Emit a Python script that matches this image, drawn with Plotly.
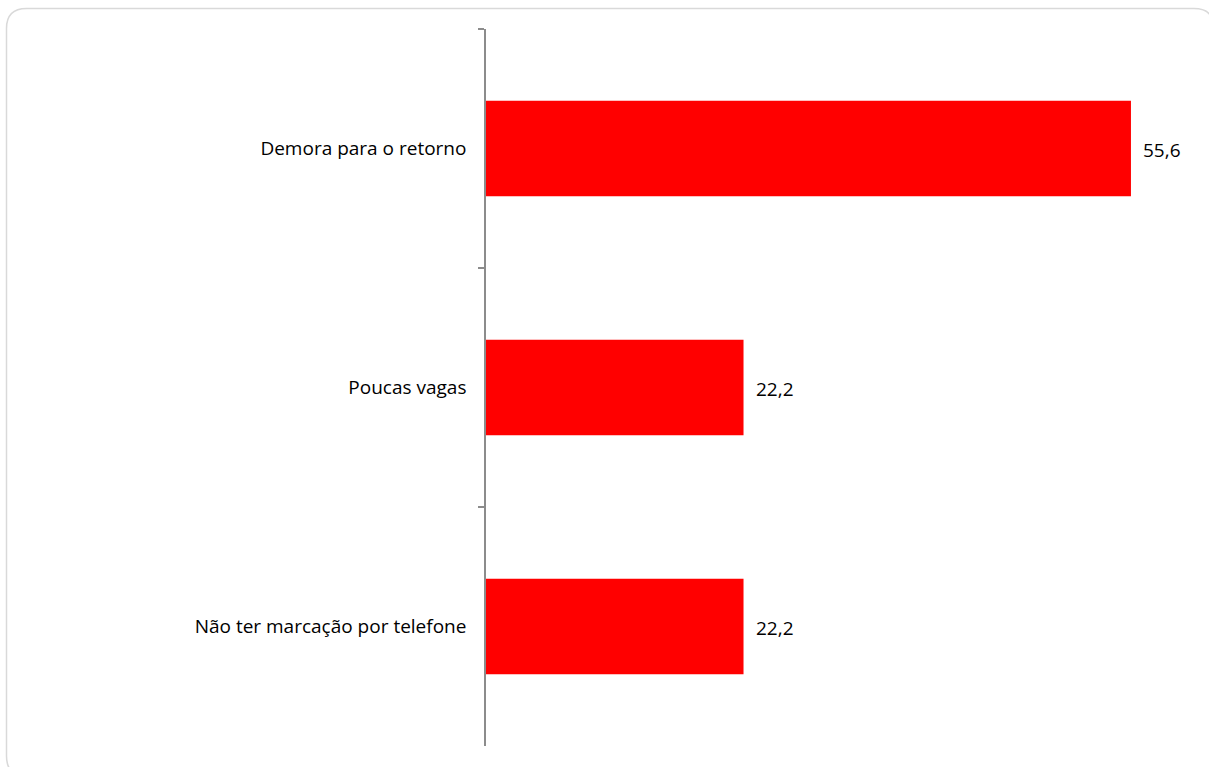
import plotly.graph_objects as go

categories = ["Demora para o retorno", "Poucas vagas", "Não ter marcação por telefone"]
values = [55.6, 22.2, 22.2]
value_labels = ["55,6", "22,2", "22,2"]

W, H = 1209, 767
L, R, T, B = 486, 9, 29, 21
pw, ph = W - L - R, H - T - B
FONT = "Open Sans, Liberation Sans"

def px(x):
    return (x - L) / pw

def py(y):
    return (H - B - y) / ph

fig = go.Figure()
fig.add_trace(go.Bar(
    y=categories, x=values, orientation="h",
    marker=dict(color="#FF0000", line=dict(width=0)),
    width=0.4, hoverinfo="skip",
))
for c, v, t in zip(categories, values, value_labels):
    fig.add_annotation(x=v, y=c, text=t, showarrow=False, xanchor="left",
                       xshift=10, yshift=-1, font=dict(family=FONT, size=19, color="#000"))

# rounded frame
x0, y0, x1, y1, r = 6.5, 8.5, 1214, 776, 20
path = (f"M {px(x0)},{py(y0 + r)} Q {px(x0)},{py(y0)} {px(x0 + r)},{py(y0)} "
        f"L {px(x1 - r)},{py(y0)} Q {px(x1)},{py(y0)} {px(x1)},{py(y0 + r)} "
        f"L {px(x1)},{py(y1 - r)} Q {px(x1)},{py(y1)} {px(x1 - r)},{py(y1)} "
        f"L {px(x0 + r)},{py(y1)} Q {px(x0)},{py(y1)} {px(x0)},{py(y1 - r)} Z")
fig.add_shape(type="path", xref="paper", yref="paper", path=path,
              line=dict(color="#D9D9D9", width=1.5), layer="below")

fig.update_layout(
    width=W, height=H,
    margin=dict(l=L, r=R, t=T, b=B),
    plot_bgcolor="white", paper_bgcolor="white",
    showlegend=False,
    font=dict(family=FONT, size=19, color="#000"),
    xaxis=dict(range=[0, pw / 11.6], visible=False, showgrid=False, zeroline=False),
    yaxis=dict(
        categoryorder="array", categoryarray=categories, autorange="reversed",
        showline=True, linecolor="#8C8C8C", linewidth=1.5,
        ticks="outside", tickson="boundaries", ticklen=6, tickcolor="#8C8C8C", tickwidth=1.5,
        showgrid=False, zeroline=False, ticklabelstandoff=14,
        tickfont=dict(family=FONT, size=19, color="#000"),
    ),
)

fig.write_html("out.html", config={"displayModeBar": False},
               post_script="document.body.style.margin='0';")
